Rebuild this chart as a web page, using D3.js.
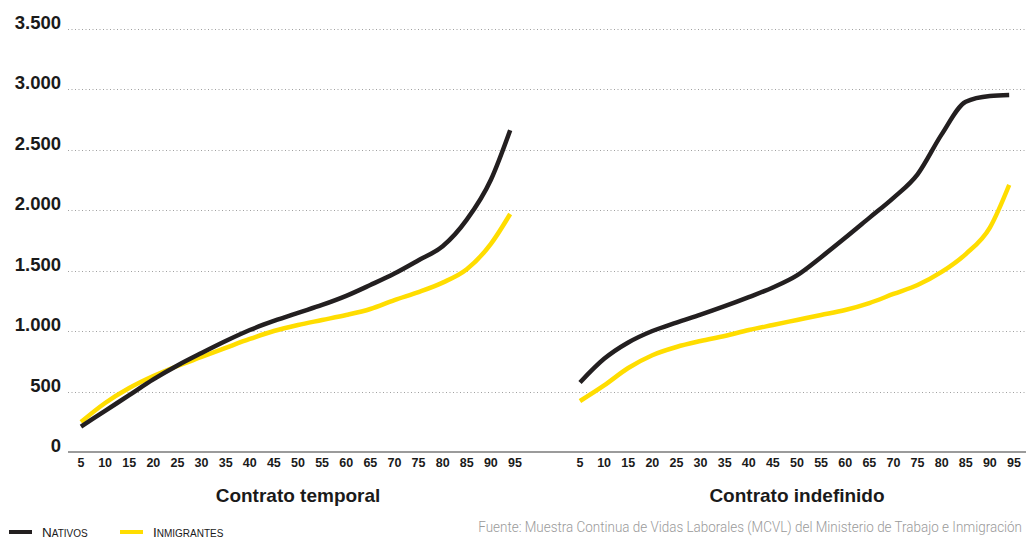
<!DOCTYPE html>
<html>
<head>
<meta charset="utf-8">
<script src="https://cdn.jsdelivr.net/npm/d3@7/dist/d3.min.js"></script>
<style>
  html, body { margin: 0; padding: 0; background: #fff; }
  svg { display: block; }
</style>
</head>
<body>
<svg id="chart" width="1026" height="539"></svg>
<script>
// ---- Data ----
const percentiles = [5, 10, 15, 20, 25, 30, 35, 40, 45, 50, 55, 60, 65, 70, 75, 80, 85, 90, 94];
const xTickLabels = ["5","10","15","20","25","30","35","40","45","50","55","60","65","70","75","80","85","90","95"];
const yTicks = [0, 500, 1000, 1500, 2000, 2500, 3000, 3500];
const yTickLabels = ["0", "500", "1.000", "1.500", "2.000", "2.500", "3.000", "3.500"];
const panels = ["Contrato temporal", "Contrato indefinido"];
const seriesNames = ["Nativos", "Inmigrantes"];
const seriesColors = ["#231f20", "#ffdd00"];

const nativosTemporal    = [210, 340, 470, 600, 715, 818, 917, 1008, 1083, 1150, 1215, 1290, 1380, 1475, 1585, 1700, 1920, 2250, 2660];
const inmigrantesTemporal= [248, 405, 529, 628, 711, 785, 860, 934, 1000, 1050, 1091, 1132, 1182, 1256, 1322, 1400, 1510, 1720, 1967];
const nativosIndefinido  = [575, 770, 905, 1000, 1070, 1135, 1205, 1280, 1360, 1460, 1610, 1770, 1935, 2100, 2295, 2625, 2895, 2942, 2950];
const inmigrantesIndef   = [421, 550, 694, 800, 868, 917, 959, 1008, 1050, 1091, 1132, 1174, 1231, 1306, 1380, 1488, 1636, 1855, 2207];

const source = "Fuente: Muestra Continua de Vidas Laborales (MCVL) del Ministerio de Trabajo e Inmigración";

// ---- Layout ----
const svg = d3.select("#chart");
const y = d3.scaleLinear().domain([0, 3500]).range([452, 28.5]);
const xLeft = d3.scaleLinear().domain([5, 95]).range([81, 515]);
const xRight = d3.scaleLinear().domain([5, 95]).range([580, 1014]);
const gridX0 = 68, gridX1 = 1026;

// gridlines
svg.append("g").selectAll("line")
  .data(yTicks.filter(d => d > 0))
  .join("line")
  .attr("x1", gridX0).attr("x2", gridX1)
  .attr("y1", d => Math.round(y(d)) + 0.5).attr("y2", d => Math.round(y(d)) + 0.5)
  .attr("stroke", "#a0a0a0").attr("stroke-width", 1)
  .attr("stroke-dasharray", "1,2.5");

// baseline
svg.append("line")
  .attr("x1", gridX0).attr("x2", gridX1)
  .attr("y1", y(0)).attr("y2", y(0))
  .attr("stroke", "#7a7a7a").attr("stroke-width", 1.5);

// y labels
svg.append("g").selectAll("text")
  .data(yTicks)
  .join("text")
  .attr("x", 61).attr("y", d => y(d))
  .attr("text-anchor", "end")
  .attr("font-family", "Liberation Sans, Arial, sans-serif")
  .attr("font-weight", "bold")
  .attr("font-size", 18.5)
  .attr("fill", "#1a1a1a")
  .text((d, i) => yTickLabels[i]);

// x labels
const tickVals = xTickLabels.map(Number);
[xLeft, xRight].forEach(sc => {
  svg.append("g").selectAll("text")
    .data(tickVals)
    .join("text")
    .attr("x", d => sc(d)).attr("y", 467)
    .attr("text-anchor", "middle")
    .attr("font-family", "Liberation Sans, Arial, sans-serif")
    .attr("font-weight", "bold")
    .attr("font-size", 12.5)
    .attr("fill", "#1a1a1a")
    .text((d, i) => xTickLabels[i]);
});

// panel titles
[[xLeft, panels[0]], [xRight, panels[1]]].forEach(([sc, t]) => {
  svg.append("text")
    .attr("x", sc(50)).attr("y", 502)
    .attr("text-anchor", "middle")
    .attr("font-family", "Liberation Sans, Arial, sans-serif")
    .attr("font-weight", "bold")
    .attr("font-size", 19)
    .attr("fill", "#1a1a1a")
    .text(t);
});

// lines
const mk = sc => d3.line().x((d, i) => sc(percentiles[i])).y(d => y(d)).curve(d3.curveMonotoneX);
const series = [
  [xLeft, inmigrantesTemporal, 1],
  [xLeft, nativosTemporal, 0],
  [xRight, inmigrantesIndef, 1],
  [xRight, nativosIndefinido, 0]
];
series.forEach(([sc, vals, ci]) => {
  svg.append("path")
    .datum(vals)
    .attr("d", mk(sc))
    .attr("fill", "none")
    .attr("stroke", seriesColors[ci])
    .attr("stroke-width", 4.5)
    .attr("stroke-linejoin", "round");
});

// legend
const legend = svg.append("g");
const legX = [9, 120];
seriesNames.forEach((name, i) => {
  legend.append("line")
    .attr("x1", legX[i]).attr("x2", legX[i] + 23)
    .attr("y1", 532).attr("y2", 532)
    .attr("stroke", seriesColors[i]).attr("stroke-width", 4);
  const t = legend.append("text")
    .attr("x", legX[i] + 33).attr("y", 536.5)
    .attr("font-family", "Liberation Sans, Arial, sans-serif")
    .attr("fill", "#1a1a1a");
  t.append("tspan").attr("font-size", 13.5).text(name[0].toUpperCase());
  t.append("tspan").attr("font-size", 10).text(name.slice(1).toUpperCase());
});

// source (horizontally condensed to mimic the condensed typeface)
const src = svg.append("text")
  .attr("x", 0).attr("y", 0)
  .attr("text-anchor", "end")
  .attr("font-family", "Roboto, sans-serif")
  .attr("font-weight", 300)
  .attr("font-size", 15.5)
  .attr("fill", "#9a9a9a")
  .text(source);
const natW = src.node().getComputedTextLength();
src.attr("transform", `translate(1022,532) scale(${544 / natW},1)`);
</script>
</body>
</html>
